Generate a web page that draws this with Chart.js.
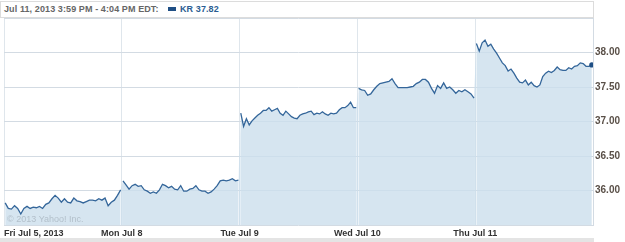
<!DOCTYPE html>
<html lang="en">
<head>
    <meta charset="UTF-8">
    <title>KR intraday</title>
    <script src="https://cdn.jsdelivr.net/npm/chart.js"></script>
    <style>
        body { margin: 0; background: #fff; }
        #wrap { position: relative; width: 625px; height: 242px; overflow: hidden; }
        #head {
            position: absolute; left: 0; top: 1px; width: 592px; height: 15px;
            border: 1px solid #dcdcdc; background: #fff;
            font: bold 9px "Liberation Sans", Arial, sans-serif; line-height: 15px;
            color: #666; white-space: nowrap; letter-spacing: 0.1px;
        }
        #head .date { position: absolute; left: 3px; }
        #head .key { position: absolute; left: 167px; top: 5px; width: 8px; height: 4px; background: #1f4f85; }
        #head .val { position: absolute; left: 179px; color: #2b5d92; }
        #strip { position: absolute; left: 0; top: 238px; width: 594px; height: 4px; background: #e4e4e4; }
    </style>
</head>
<body>
<div id="wrap">
    <canvas id="kr" width="625" height="242"></canvas>
    <div id="head"><span class="date">Jul 11, 2013 3:59 PM - 4:04 PM EDT:</span><span class="key"></span><span class="val">KR 37.82</span></div>
    <div id="strip"></div>
</div>
<script>
    // 每日收盘价 (约10分钟一个点), 读自原图
    const dayLabels = ['Fri Jul 5, 2013', 'Mon Jul 8', 'Tue Jul 9', 'Wed Jul 10', 'Thu Jul 11', ''];
    const yTickLabels = ['36.00', '36.50', '37.00', '37.50', '38.00'];

    const fri = [35.82,35.74,35.73,35.78,35.74,35.66,35.74,35.77,35.74,35.76,35.75,35.77,35.74,35.80,35.82,35.88,35.93,35.89,35.83,35.88,35.83,35.82,35.89,35.85,35.84,35.82,35.84,35.86,35.86,35.85,35.88,35.86,35.89,35.78,35.83,35.86,35.93,36.01];
    const mon = [36.14,36.08,36.02,36.07,36.09,36.06,36.07,36.01,35.99,35.96,35.98,35.96,36.01,36.09,36.07,36.04,36.06,36.02,36.01,36.07,35.99,35.99,36.02,36.03,36.07,36.01,35.99,35.99,35.96,35.98,36.02,36.07,36.14,36.15,36.14,36.15,36.17,36.14,36.15];
    const tue = [37.12,36.93,37.04,36.95,37.01,37.05,37.09,37.12,37.16,37.16,37.20,37.15,37.17,37.19,37.12,37.09,37.15,37.11,37.07,37.05,37.04,37.09,37.11,37.12,37.14,37.15,37.10,37.12,37.11,37.14,37.11,37.09,37.12,37.11,37.12,37.17,37.20,37.20,37.23,37.28,37.20,37.20];
    const wed = [37.48,37.46,37.45,37.38,37.40,37.46,37.51,37.55,37.56,37.57,37.58,37.62,37.55,37.49,37.49,37.49,37.49,37.50,37.51,37.55,37.57,37.61,37.61,37.57,37.48,37.41,37.52,37.48,37.56,37.48,37.50,37.46,37.41,37.45,37.43,37.46,37.43,37.40,37.34];
    const thu = [38.13,38.02,38.14,38.18,38.09,38.12,38.05,37.99,37.92,37.85,37.81,37.73,37.76,37.70,37.63,37.57,37.56,37.60,37.53,37.57,37.52,37.50,37.53,37.65,37.70,37.73,37.71,37.74,37.79,37.75,37.74,37.74,37.78,37.76,37.80,37.81,37.85,37.84,37.80,37.80,37.82];

    const days = [fri, mon, tue, wed, thu];

    // x = 交易日序号 + 当日交易时段内的位置
    const points = [];
    days.forEach((arr, d) => {
        arr.forEach((v, i) => {
            points.push({ x: d + 0.01 + 0.98 * i / (arr.length - 1), y: v });
        });
    });
    const lastIdx = points.length - 1;

    // 水印
    const watermark = {
        id: 'watermark',
        afterDatasetsDraw(chart) {
            const c = chart.ctx, a = chart.chartArea;
            c.save();
            c.font = '9px "Liberation Sans", Arial, sans-serif';
            c.fillStyle = '#b3c0cb';
            c.textBaseline = 'alphabetic';
            c.fillText('\u00a9 2013 Yahoo! Inc.', a.left + 3, a.bottom - 3);
            c.restore();
        }
    };

    new Chart(document.getElementById('kr'), {
        type: 'line',
        data: {
            datasets: [{
                data: points,
                borderColor: '#34669a',
                borderWidth: 1.3,
                backgroundColor: 'rgba(204, 222, 236, 0.8)',
                fill: 'start',
                tension: 0,
                // 跨日的跳空不画线
                segment: {
                    borderColor: ctx => Math.floor(ctx.p0.parsed.x) !== Math.floor(ctx.p1.parsed.x) ? 'rgba(0,0,0,0)' : undefined
                },
                pointRadius: ctx => ctx.dataIndex === lastIdx ? 2.6 : 0,
                pointBackgroundColor: '#1f4f85',
                pointBorderWidth: 0
            }]
        },
        options: {
            responsive: false,
            animation: false,
            layout: { padding: { top: 18, left: 1, right: 0, bottom: 0 } },
            plugins: { legend: { display: false }, tooltip: { enabled: false } },
            scales: {
                x: {
                    type: 'linear', min: 0, max: 5,
                    z: 1,
                    afterFit: s => { s.height = 17; },
                    afterBuildTicks: s => { s.ticks = [0, 1, 2, 3, 4, 5].map(v => ({ value: v })); },
                    grid: { color: '#dfe6ec', drawTicks: false },
                    border: { display: false },
                    ticks: {
                        align: 'inner', padding: 3, maxRotation: 0, autoSkip: false,
                        color: '#333', font: { family: 'Liberation Sans', size: 9, weight: 'bold' },
                        callback: v => dayLabels[v]
                    }
                },
                y: {
                    position: 'right', min: 35.5, max: 38.5,
                    afterFit: s => { s.width = 32; },
                    afterBuildTicks: s => { s.ticks = [35.5, 36, 36.5, 37, 37.5, 38, 38.5].map(v => ({ value: v })); },
                    grid: { color: '#d3dbe3', drawTicks: false },
                    border: { display: true, color: '#d3dbe3' },
                    ticks: {
                        padding: 2, color: '#5a5048',
                        font: { family: 'Liberation Sans', size: 10, weight: 'bold' },
                        callback: v => yTickLabels[Math.round((v - 36) * 2)] || ''
                    }
                }
            }
        },
        plugins: [watermark]
    });
</script>
</body>
</html>
